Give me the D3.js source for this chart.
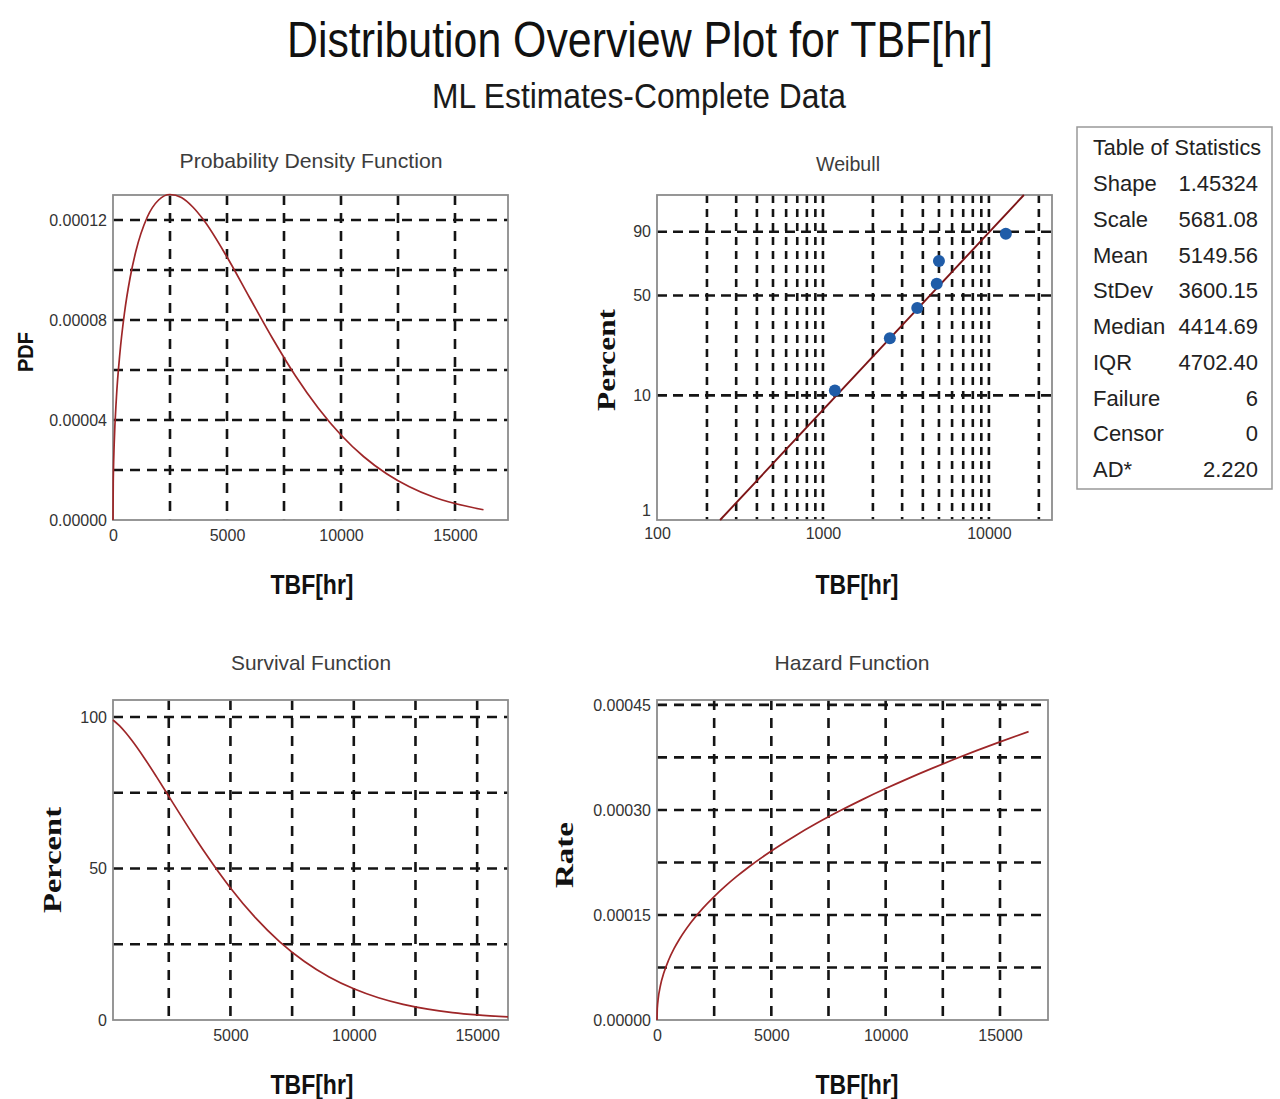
<!DOCTYPE html>
<html><head><meta charset="utf-8">
<script src="https://cdn.jsdelivr.net/npm/d3@7"></script>
<style>
body{margin:0;background:#fff;}
svg{display:block;}
</style></head><body>
<svg id="chart" width="1280" height="1099"></svg>
<script>
// ---------------- DATA ----------------
const mainTitle = "Distribution Overview Plot for TBF[hr]";
const subTitle = "ML Estimates-Complete Data";

// Probability density function
const pdfX = [0, 10, 20, 50, 150, 300, 500, 750, 1000, 1500, 2000, 2500, 3000, 3500, 4000, 5000, 6000, 7000, 8000, 9000, 10000, 11000, 12000, 13000, 14000, 15000, 16250];
const pdfY = [0, 0.0000144, 0.0000198, 0.0000299, 0.0000490, 0.0000665, 0.0000826, 0.0000969, 0.0001074, 0.0001211, 0.0001280, 0.0001302, 0.0001290, 0.0001252, 0.0001197, 0.0001052, 0.0000888, 0.0000726, 0.0000577, 0.0000448, 0.0000340, 0.0000253, 0.0000185, 0.0000133, 0.0000094, 0.0000066, 0.0000041];

// Weibull probability plot
const failTimes = [1180, 2530, 3700, 4850, 5000, 12650];
const failPercent = [10.9, 26.6, 42.2, 57.8, 73.4, 89.1];
const fitX = [240, 16250];
const fitPercent = [1, 99];

// Survival function (percent)
const survX = [240, 500, 750, 1000, 1500, 2000, 2500, 3000, 3500, 4000, 5000, 6000, 7000, 8000, 9000, 10000, 11000, 12000, 13000, 14000, 15000, 16250];
const survY = [99.0, 97.12, 94.86, 92.30, 86.56, 80.31, 73.83, 67.35, 60.98, 54.85, 43.58, 33.87, 25.81, 19.31, 14.21, 10.29, 7.34, 5.16, 3.58, 2.45, 1.66, 1.00];

// Hazard function
const hazX = [0, 10, 20, 50, 150, 300, 500, 750, 1000, 1500, 2000, 2500, 3000, 3500, 4000, 5000, 6000, 7000, 8000, 9000, 10000, 11000, 12000, 13000, 14000, 15000, 16250];
const hazY = [0, 0.0000144, 0.0000198, 0.0000299, 0.0000493, 0.0000674, 0.0000850, 0.0001022, 0.0001164, 0.0001399, 0.0001594, 0.0001763, 0.0001915, 0.0002054, 0.0002182, 0.0002414, 0.0002622, 0.0002812, 0.0002987, 0.0003151, 0.0003305, 0.0003451, 0.0003590, 0.0003723, 0.0003850, 0.0003972, 0.0004119];

// Tick values / grid values
const linGridX = [2500, 5000, 7500, 10000, 12500, 15000];
const pdfTicksX = [0, 5000, 10000, 15000];
const pdfTicksY = [0, 0.00004, 0.00008, 0.00012];
const pdfGridY = [0.00002, 0.00004, 0.00006, 0.00008, 0.0001, 0.00012];
const wbTicksX = [100, 1000, 10000];
const wbGridX = [200, 300, 400, 500, 600, 700, 800, 900, 1000, 2000, 3000, 4000, 5000, 6000, 7000, 8000, 9000, 10000, 20000];
const wbTicksY = [1, 10, 50, 90];
const wbGridY = [10, 50, 90];
const survTicksX = [5000, 10000, 15000];
const survTicksY = [0, 50, 100];
const survGridY = [25, 50, 75, 100];
const hazTicksX = [0, 5000, 10000, 15000];
const hazTicksY = [0, 0.00015, 0.0003, 0.00045];
const hazGridY = [0.000075, 0.00015, 0.000225, 0.0003, 0.000375, 0.00045];

const statLabels = ["Shape", "Scale", "Mean", "StDev", "Median", "IQR", "Failure", "Censor", "AD*"];
const statValues = ["1.45324", "5681.08", "5149.56", "3600.15", "4414.69", "4702.40", "6", "0", "2.220"];

// ---------------- DRAWING ----------------
const SANS = '"Liberation Sans Narrow","Arial Narrow","Liberation Sans",Arial,sans-serif';
const SANS_B = '"Liberation Sans",Arial,sans-serif';
const SERIF = '"Liberation Serif","Times New Roman",serif';

const svg = d3.select("#chart");
svg.append("rect").attr("width", 1280).attr("height", 1099).attr("fill", "#fff");

const CURVE = "#9e2628";
const GRID = "#141414";

// titles
svg.append("text").attr("x", 640).attr("y", 57).attr("text-anchor", "middle")
  .style("font-family", SANS).attr("font-size", 50).attr("fill", "#111")
  .attr("textLength", 706).attr("lengthAdjust", "spacingAndGlyphs").text(mainTitle);
svg.append("text").attr("x", 639).attr("y", 108).attr("text-anchor", "middle")
  .style("font-family", SANS).attr("font-size", 35).attr("fill", "#1a1a1a")
  .attr("textLength", 414).attr("lengthAdjust", "spacingAndGlyphs").text(subTitle);

function panel(cfg) {
  const g = svg.append("g");
  const x = cfg.x, y = cfg.y;
  const [xa, xb] = x.range();
  const yb = cfg.yBottom, yt = cfg.yTop;

  // grid
  g.selectAll("line.v").data(cfg.gridX).join("line")
    .attr("x1", d => x(d)).attr("x2", d => x(d)).attr("y1", yt).attr("y2", yb)
    .attr("stroke", GRID).attr("stroke-width", 2.6).attr("stroke-dasharray", cfg.vdash);
  g.selectAll("line.h").data(cfg.gridY).join("line")
    .attr("x1", xa).attr("x2", xb).attr("y1", d => y(d)).attr("y2", d => y(d))
    .attr("stroke", GRID).attr("stroke-width", 2.6).attr("stroke-dasharray", cfg.hdash);

  // border
  g.append("rect").attr("x", xa).attr("y", yt).attr("width", xb - xa).attr("height", yb - yt)
    .attr("fill", "none").attr("stroke", "#8c8c8c").attr("stroke-width", 1.8);

  // axes
  const ax = g.append("g").attr("transform", `translate(0,${yb})`)
    .call(d3.axisBottom(x).tickValues(cfg.ticksX).tickFormat(cfg.fmtX).tickSize(0).tickPadding(cfg.xPad || 10));
  const ay = g.append("g").attr("transform", `translate(${xa},0)`)
    .call(d3.axisLeft(y).tickValues(cfg.ticksY).tickFormat(cfg.fmtY).tickSize(0).tickPadding(6));
  [ax, ay].forEach(a => {
    a.select(".domain").remove();
    a.selectAll("text").attr("font-size", 16).attr("fill", "#333").style("font-family", SANS);
  });
  if (cfg.tweakY) cfg.tweakY(ay);

  // panel title
  g.append("text").attr("x", cfg.titleX).attr("y", cfg.titleY).attr("text-anchor", "middle")
    .style("font-family", SANS).attr("font-size", 21).attr("fill", "#3c3c3c")
    .attr("textLength", cfg.titleW).attr("lengthAdjust", "spacingAndGlyphs").text(cfg.title);
  // x label
  g.append("text").attr("x", cfg.xlabX).attr("y", cfg.xlabY).attr("text-anchor", "middle")
    .style("font-family", SANS_B).attr("font-size", 27).attr("font-weight", "bold").attr("fill", "#111")
    .attr("textLength", 83).attr("lengthAdjust", "spacingAndGlyphs").text("TBF[hr]");
  // y label
  g.append("text").attr("transform", `translate(${cfg.ylabX},${cfg.ylabY}) rotate(-90)`)
    .attr("text-anchor", "middle").attr("font-size", cfg.ylabSize).attr("font-weight", "bold").attr("fill", "#111")
    .style("font-family", cfg.ylabFont)
    .attr("textLength", cfg.ylabW).attr("lengthAdjust", "spacingAndGlyphs").text(cfg.ylab);
  return g;
}

// ---- PDF ----
const pdfXs = d3.scaleLinear().domain([0, 17325]).range([113, 508]);
const pdfYs = d3.scaleLinear().domain([0, 0.00013]).range([520, 195]);
const gPdf = panel({
  x: pdfXs, y: pdfYs, yBottom: 520, yTop: 195,
  gridX: linGridX, gridY: pdfGridY, vdash: "10,8", hdash: "10,7",
  ticksX: pdfTicksX, ticksY: pdfTicksY, fmtX: d3.format("d"), fmtY: d3.format(".5f"),
  title: "Probability Density Function", titleX: 311, titleY: 168, titleW: 263,
  xlabX: 312, xlabY: 594, ylab: "PDF", ylabX: 33, ylabY: 352, ylabW: 40, ylabSize: 22, ylabFont: SANS_B
});
gPdf.append("path").datum(d3.zip(pdfX, pdfY))
  .attr("fill", "none").attr("stroke", CURVE).attr("stroke-width", 1.7)
  .attr("d", d3.line().x(d => pdfXs(d[0])).y(d => pdfYs(d[1])).curve(d3.curveMonotoneX));

// ---- Weibull ----
const wt = p => Math.log(-Math.log(1 - p / 100));
const wLin = d3.scaleLinear().domain([wt(1), wt(99)]).range([520, 195]);
function probScale(p) { return wLin(wt(p)); }
probScale.domain = () => [1, 99];
probScale.range = () => wLin.range();
probScale.copy = () => probScale;

const wbXs = d3.scaleLog().domain([100, 24000]).range([657, 1052]);
const gWb = panel({
  x: wbXs, y: probScale, yBottom: 520, yTop: 195,
  gridX: wbGridX, gridY: wbGridY, vdash: "8,6", hdash: "10,6",
  ticksX: wbTicksX, ticksY: wbTicksY, fmtX: d3.format("d"), fmtY: d3.format("d"), xPad: 8,
  title: "Weibull", titleX: 848, titleY: 171, titleW: 64,
  xlabX: 857, xlabY: 594, ylab: "Percent", ylabX: 615, ylabY: 360, ylabW: 102, ylabSize: 25, ylabFont: SERIF,
  tweakY: a => a.selectAll(".tick").filter(d => d === 1).select("text").attr("dy", "-0.3em")
});
gWb.append("path").datum(d3.zip(fitX, fitPercent))
  .attr("fill", "none").attr("stroke", "#7d1416").attr("stroke-width", 1.9)
  .attr("d", d3.line().x(d => wbXs(d[0])).y(d => probScale(d[1])));
gWb.selectAll("circle").data(d3.zip(failTimes, failPercent)).join("circle")
  .attr("cx", d => wbXs(d[0])).attr("cy", d => probScale(d[1])).attr("r", 6)
  .attr("fill", "#1f5ca8");

// ---- Survival ----
const svXs = d3.scaleLinear().domain([240, 16250]).range([113, 508]);
const svYs = d3.scaleLinear().domain([0, 105.6]).range([1020, 700]);
const gSv = panel({
  x: svXs, y: svYs, yBottom: 1020, yTop: 700,
  gridX: linGridX, gridY: survGridY, vdash: "10,8", hdash: "10,7",
  ticksX: survTicksX, ticksY: survTicksY, fmtX: d3.format("d"), fmtY: d3.format("d"),
  title: "Survival Function", titleX: 311, titleY: 670, titleW: 160,
  xlabX: 312, xlabY: 1094, ylab: "Percent", ylabX: 61, ylabY: 860, ylabW: 106, ylabSize: 25, ylabFont: SERIF
});
gSv.append("path").datum(d3.zip(survX, survY))
  .attr("fill", "none").attr("stroke", CURVE).attr("stroke-width", 1.7)
  .attr("d", d3.line().x(d => svXs(d[0])).y(d => svYs(d[1])).curve(d3.curveMonotoneX));

// ---- Hazard ----
const hzXs = d3.scaleLinear().domain([0, 17100]).range([657, 1048]);
const hzYs = d3.scaleLinear().domain([0, 0.000457]).range([1020, 700]);
const gHz = panel({
  x: hzXs, y: hzYs, yBottom: 1020, yTop: 700,
  gridX: linGridX, gridY: hazGridY, vdash: "10,8", hdash: "10,7",
  ticksX: hazTicksX, ticksY: hazTicksY, fmtX: d3.format("d"), fmtY: d3.format(".5f"),
  title: "Hazard Function", titleX: 852, titleY: 670, titleW: 155,
  xlabX: 857, xlabY: 1094, ylab: "Rate", ylabX: 573, ylabY: 855, ylabW: 66, ylabSize: 25, ylabFont: SERIF
});
gHz.append("path").datum(d3.zip(hazX, hazY))
  .attr("fill", "none").attr("stroke", CURVE).attr("stroke-width", 1.7)
  .attr("d", d3.line().x(d => hzXs(d[0])).y(d => hzYs(d[1])).curve(d3.curveMonotoneX));

// ---- Table of statistics ----
const tb = svg.append("g").style("font-family", SANS);
tb.append("rect").attr("x", 1077).attr("y", 127).attr("width", 195).attr("height", 362)
  .attr("fill", "#fff").attr("stroke", "#999").attr("stroke-width", 1.5);
tb.append("text").attr("x", 1093).attr("y", 155).attr("font-size", 22).attr("fill", "#222")
  .attr("textLength", 168).attr("lengthAdjust", "spacingAndGlyphs").text("Table of Statistics");
const rowY = d3.scaleLinear().domain([0, statLabels.length - 1]).range([191, 477]);
tb.selectAll("text.lab").data(statLabels).join("text").attr("class", "lab")
  .attr("x", 1093).attr("y", (d, i) => rowY(i)).attr("font-size", 22).attr("fill", "#222").text(d => d);
tb.selectAll("text.val").data(statValues).join("text").attr("class", "val")
  .attr("x", 1258).attr("y", (d, i) => rowY(i)).attr("text-anchor", "end")
  .attr("font-size", 22).attr("fill", "#222").text(d => d);
</script>
</body></html>
